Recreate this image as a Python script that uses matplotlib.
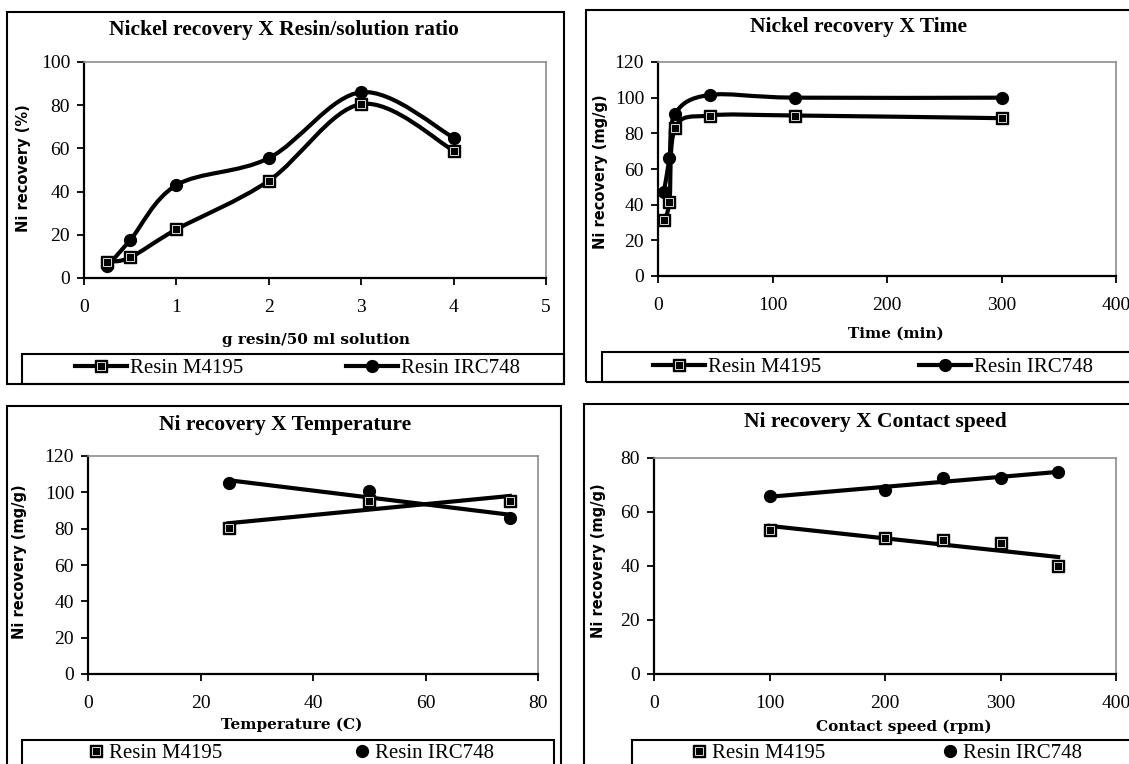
import numpy as np
import matplotlib
matplotlib.use("Agg")
import matplotlib.pyplot as plt
from matplotlib.path import Path
from matplotlib.patches import PathPatch, Rectangle
from matplotlib.lines import Line2D

# ---- data ----
ratio_g = [0.25, 0.5, 1, 2, 3, 4]
ratio_m4195 = [7.5, 9.5, 22.5, 45, 80.5, 59]
ratio_irc748 = [5.5, 17.5, 43, 55.5, 86, 65]

time_min = [5, 10, 15, 45, 120, 300]
time_m4195 = [31.5, 41.5, 83, 90, 90, 88.5]
time_irc748 = [47, 66, 91, 101.5, 100, 100]

temp_c = [25, 50, 75]
temp_m4195 = [80.5, 95.5, 95.5]
temp_irc748 = [105, 100.5, 86]

speed_rpm = [100, 200, 250, 300, 350]
speed_m4195 = [53.5, 50.5, 49.5, 48.5, 40]
speed_irc748 = [66, 68, 72.5, 72.5, 75]

LABELS = ["Resin M4195", "Resin IRC748"]

plt.rcParams['font.family'] = ['Liberation Serif', 'DejaVu Serif']

W, H = 1129, 764
fig = plt.figure(figsize=(W / 100, H / 100), dpi=100)

LW = 3.0
SQ_OUT = dict(marker='s', ms=9, mfc='black', mec='black', mew=1)
SQ_IN = dict(marker='s', ms=5.5, mfc='black', mec='#d8d8d8', mew=0.7)
CI = dict(marker='o', ms=8.5, mfc='black', mec='black')


def fx(x):
	return x / W


def fy(y):
	return 1 - y / H


def box(l, t, r, b):
	# frame lines drawn in pixel space of the figure
	fig.add_artist(Rectangle((fx(l), fy(b)), (r - l) / W, (b - t) / H, transform=fig.transFigure,
							 fill=False, edgecolor='black', lw=1.5, clip_on=False))


def smooth_path(x, y):
	# Excel-like smoothed line: cubic Bezier through the points
	pts = np.column_stack([x, y]).astype(float)
	n = len(pts)
	verts = [pts[0]]
	codes = [Path.MOVETO]
	for i in range(n - 1):
		p0 = pts[max(i - 1, 0)]
		p1 = pts[i]
		p2 = pts[i + 1]
		p3 = pts[min(i + 2, n - 1)]
		verts += [p1 + (p2 - p0) / 6, p2 - (p3 - p1) / 6, p2]
		codes += [Path.CURVE4] * 3
	return Path(verts, codes)


def squares(ax, x, y):
	ax.plot(x, y, ls='none', zorder=4, **SQ_OUT)
	ax.plot(x, y, ls='none', zorder=5, **SQ_IN)


def circles(ax, x, y):
	ax.plot(x, y, ls='none', zorder=4, **CI)


def make_axes(l, t, r, b, xlim, ylim, xticks, yticks):
	ax = fig.add_axes([fx(l), fy(b), (r - l) / W, (b - t) / H])
	ax.set_xlim(*xlim)
	ax.set_ylim(*ylim)
	ax.set_xticks(xticks)
	ax.set_yticks(yticks)
	for s in ['top', 'right']:
		ax.spines[s].set_color('#8c8c8c')
		ax.spines[s].set_linewidth(1.2)
	for s in ['left', 'bottom']:
		ax.spines[s].set_color('black')
		ax.spines[s].set_linewidth(1.6)
	ax.tick_params(direction='out', length=5, width=1.3, labelsize=14, colors='black')
	ax.tick_params(axis='x', pad=10)
	ax.tick_params(axis='y', pad=5)
	return ax


def texts(title, tx, ty, xlabel, lx, ly, ylabel, yx, yy):
	fig.text(fx(tx), fy(ty), title, ha='center', va='center', fontsize=15.5, fontweight='bold')
	fig.text(fx(lx), fy(ly), xlabel, ha='center', va='center', fontsize=11, fontweight='bold',
			 family='DejaVu Serif')
	fig.text(fx(yx), fy(yy), ylabel, ha='center', va='center', rotation=90, fontsize=10.5,
			 fontweight='bold', family='DejaVu Sans')


def legend_entry(handle, label, x, y, hlen, hpad):
	fig.legend([handle], [label], loc='center left', bbox_to_anchor=(fx(x), fy(y)),
			   frameon=False, fontsize=15, handlelength=hlen, handletextpad=hpad,
			   borderpad=0, borderaxespad=0)


sq_line = (Line2D([], [], color='black', lw=LW, **SQ_OUT), Line2D([], [], ls='none', **SQ_IN))
ci_line = Line2D([], [], color='black', lw=LW, **CI)
sq_only = (Line2D([], [], ls='none', **SQ_OUT), Line2D([], [], ls='none', **SQ_IN))
ci_only = Line2D([], [], ls='none', **CI)

# ---- 1. resin / solution ratio ----
box(7, 12, 564, 384)
box(22, 354, 564, 384)
ax1 = make_axes(84, 62, 546, 278, (0, 5), (0, 100), range(0, 6), range(0, 101, 20))
for yv in (ratio_m4195, ratio_irc748):
	ax1.add_patch(PathPatch(smooth_path(ratio_g, yv), fill=False, edgecolor='black', lw=LW, zorder=3))
squares(ax1, ratio_g, ratio_m4195)
circles(ax1, ratio_g, ratio_irc748)
texts("Nickel recovery X Resin/solution ratio", 284, 30, "g resin/50 ml solution", 316, 340,
	  "Ni recovery (%)", 24, 168)
legend_entry(sq_line, LABELS[0], 75, 368, 2.5, 0.15)
legend_entry(ci_line, LABELS[1], 346, 368, 2.5, 0.15)

# ---- 2. time ----
box(586, 10, 1160, 382)
box(602, 352, 1160, 382)
ax2 = make_axes(658, 62, 1116, 276, (0, 400), (0, 120), range(0, 401, 100), range(0, 121, 20))
for yv in (time_m4195, time_irc748):
	ax2.add_patch(PathPatch(smooth_path(time_min, yv), fill=False, edgecolor='black', lw=LW, zorder=3))
squares(ax2, time_min, time_m4195)
circles(ax2, time_min, time_irc748)
texts("Nickel recovery X Time", 859, 27, "Time (min)", 896, 334,
	  "Ni recovery (mg/g)", 601, 172)
legend_entry(sq_line, LABELS[0], 653, 367, 2.5, 0.15)
legend_entry(ci_line, LABELS[1], 919, 367, 2.5, 0.15)

# ---- 3. temperature ----
box(7, 406, 561, 800)
box(22, 740, 554, 800)
ax3 = make_axes(88, 456, 538, 674, (0, 80), (0, 120), range(0, 81, 20), range(0, 121, 20))
for yv in (temp_m4195, temp_irc748):
	k = np.polyfit(temp_c, yv, 1)
	xs = np.array([min(temp_c), max(temp_c)])
	ax3.plot(xs, np.polyval(k, xs), color='black', lw=LW, zorder=3)
squares(ax3, temp_c, temp_m4195)
circles(ax3, temp_c, temp_irc748)
texts("Ni recovery X Temperature", 285, 425, "Temperature (C)", 292, 725,
	  "Ni recovery (mg/g)", 20, 562)
legend_entry(sq_only, LABELS[0], 88, 753, 0.8, 0.2)
legend_entry(ci_only, LABELS[1], 354, 753, 0.8, 0.2)

# ---- 4. contact speed ----
box(584, 404, 1160, 800)
box(632, 740, 1160, 800)
ax4 = make_axes(654, 458, 1116, 674, (0, 400), (0, 80), range(0, 401, 100), range(0, 81, 20))
for yv in (speed_m4195, speed_irc748):
	k = np.polyfit(speed_rpm, yv, 1)
	xs = np.array([min(speed_rpm), max(speed_rpm)])
	ax4.plot(xs, np.polyval(k, xs), color='black', lw=LW, zorder=3)
squares(ax4, speed_rpm, speed_m4195)
circles(ax4, speed_rpm, speed_irc748)
texts("Ni recovery X Contact speed", 875, 422, "Contact speed (rpm)", 904, 727,
	  "Ni recovery (mg/g)", 599, 561)
legend_entry(sq_only, LABELS[0], 691, 753, 0.8, 0.2)
legend_entry(ci_only, LABELS[1], 942, 753, 0.8, 0.2)

fig.savefig("out.png", dpi=100)
